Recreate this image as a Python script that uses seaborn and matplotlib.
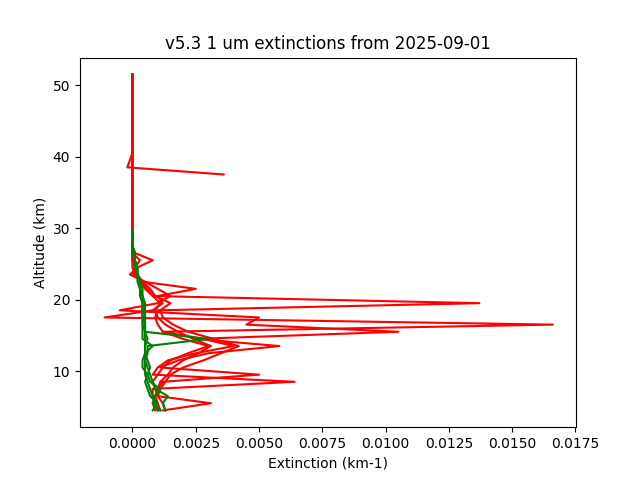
import numpy as np
import pandas as pd
import matplotlib
matplotlib.use("Agg")
import matplotlib.pyplot as plt
import seaborn as sns

alt = [4.5,5.5,6.5,7.5,8.5,9.5,10.5,11.5,12.5,13.5,14.5,15.5,16.5,17.5,18.5,19.5,20.5,21.5,22.5,23.5,24.5,25.5,26.5,27.5,28.5,29.5]
alt_top = [51.5]

red1 = [.0012,.0031,.0010,.0009,.0008,.0010,.0012,.0015,.0022,.0030,.0020,.0012,.0010,.0009,.0010,.0137,.0008,.0006,.0003,.0001,.0001,0,0,0,0,0]
red2 = [.0010,.0009,.0008,.0008,.0064,.0008,.0010,.0014,.0025,.0040,.0028,.0012,.0166,-.0011,.0008,.0012,.0010,.0025,.0004,0,.0001,.0003,0,0,0,0]
red3 = [.0011,.0010,.0009,.0010,.0012,.0050,.0011,.0018,.0030,.0058,.0025,.0105,.0045,.0050,-.0005,.0010,.0015,.0010,.0005,-.0001,.0002,.0008,.0001,0,0,0]
red4 = [.0013,.0012,.0010,.0011,.0013,.0015,.0020,.0028,.0035,.0042,.0032,.0022,.0016,.0012,.0011,.0015,.0009,.0007,.0004,.0002,.0001,0,0,0,0,0]
red5_top_alt = [51.5,40.5,38.5,37.5]
red5_top = [0,0,-.0002,.0036]
red5 = [.0009,.0008,.0009,.0010,.0011,.0014,.0016,.0020,.0026,.0031,.0024,.0018,.0013,.0010,.0009,.0011,.0008,.0005,.0003,.0001,0,0,0,0,0,0]
green1 = [.0010,.0009,.0008,.0007,.0006,.0005,.0005,.0005,.0005,.0005,.0005,.0005,.0005,.0005,.0005,.0005,.0004,.0004,.0003,.0002,.0002,.0001,.0001,0,0,0]
green2 = [.0013,.0012,.0014,.0009,.0008,.0007,.0006,.0005,.0006,.0006,.0030,.0005,.0004,.0004,.0004,.0004,.0004,.0003,.0003,.0002,.0002,.0001,.0001,0,0,0]
green3 = [.0008,.0010,.0007,.0006,.0005,.0006,.0004,.0004,.0005,.0008,.0004,.0004,.0004,.0004,.0004,.0004,.0003,.0003,.0003,.0002,.0001,.0001,0,0,0,0]
green4 = [.0011,.0008,.0009,.0011,.0007,.0006,.0007,.0006,.0005,.0005,.0006,.0005,.0005,.0004,.0004,.0004,.0004,.0003,.0002,.0002,.0001,.0001,.0001,0,0,0]

rows = []
def add(name, a, v, color):
    for ai, vi in zip(a, v):
        rows.append(dict(unit=name, alt=ai, ext=vi, color=color))

add("r1", alt + alt_top, red1 + [0], "red")
add("r2", alt + alt_top, red2 + [0], "red")
add("r3", alt + alt_top, red3 + [0], "red")
add("r4", alt + alt_top, red4 + [0], "red")
add("r5t", red5_top_alt, red5_top, "red")
add("r5", alt + [36.5], red5 + [0], "red")
for i, g in enumerate([green1, green2, green3, green4]):
    add(f"g{i}", alt, g, "green")
df = pd.DataFrame(rows)

fig, ax = plt.subplots(figsize=(6.4, 4.8), dpi=100)
for col in ["red", "green"]:
    sub = df[df.color == col]
    sns.lineplot(data=sub, x="ext", y="alt", units="unit", estimator=None,
                 sort=False, color=col, ax=ax, lw=1.5)
ax.set_xlim(-0.00207, 0.01752)
ax.set_xlabel("Extinction (km-1)")
ax.set_ylabel("Altitude (km)")
ax.set_title("v5.3 1 um extinctions from 2025-09-01")
fig.savefig("out.png")
